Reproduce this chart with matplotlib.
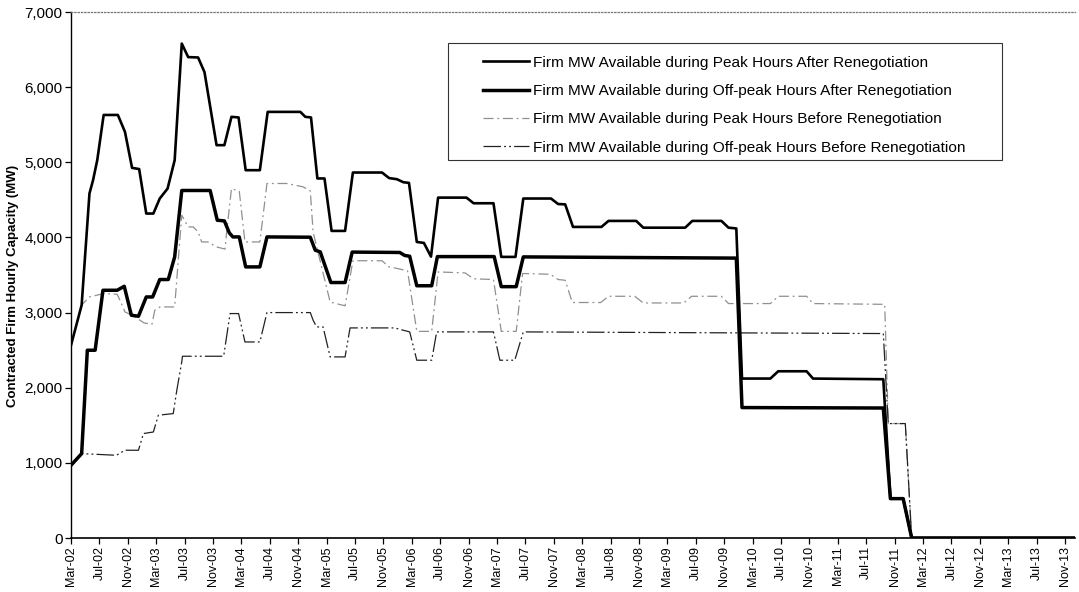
import matplotlib
matplotlib.use("Agg")
import matplotlib.pyplot as plt
from matplotlib.patches import Rectangle

plt.rcParams['font.family'] = ['Liberation Sans', 'DejaVu Sans']

# months counted from Mar-02, values in MW
peak_after_m = [0, 1.5, 2.6, 3.1, 3.7, 4.6, 6.6, 7.6, 8.6, 9.6, 10.6, 11.6, 12.5, 13.6, 14.6,
                15.6, 16.5, 17.9, 18.8, 20.5, 21.6, 22.6, 23.6, 24.6, 26.6, 27.7, 32.3, 33.0,
                33.8, 34.7, 35.7, 36.7, 38.6, 39.7, 43.8, 44.8, 45.9, 46.8, 47.6, 48.7, 49.7,
                50.7, 51.7, 55.7, 56.7, 59.5, 60.6, 62.6, 63.7, 67.6, 68.6, 69.6, 70.7, 74.7,
                75.7, 79.6, 80.6, 86.5, 87.5, 91.6, 92.6, 93.7, 94.5, 98.5, 99.6, 103.6, 104.5,
                114.4, 115.4, 117.2, 118.4, 141.4]
peak_after_mw = [2565, 3100, 4585, 4760, 5030, 5630, 5630, 5405, 4926, 4910, 4318, 4318, 4518,
                 4650, 5028, 6580, 6400, 6395, 6200, 5228, 5228, 5605, 5597, 4895, 4895, 5671,
                 5671, 5605, 5597, 4785, 4785, 4087, 4087, 4864, 4864, 4790, 4775, 4735, 4726,
                 3940, 3927, 3745, 4530, 4530, 4455, 4455, 3741, 3741, 4518, 4518, 4445, 4440,
                 4140, 4140, 4220, 4220, 4130, 4130, 4220, 4220, 4130, 4120, 2122, 2122, 2219,
                 2219, 2122, 2113, 524, 524, 0, 0]

offpeak_after_m = [0, 1.5, 2.3, 3.4, 4.5, 6.5, 7.5, 8.5, 9.5, 10.6, 11.5, 12.5, 13.7, 14.6, 15.6,
                   19.6, 20.6, 21.6, 22.3, 22.8, 23.7, 24.6, 26.6, 27.6, 33.7, 34.4, 35.1, 36.6,
                   38.6, 39.6, 46.3, 47.0, 47.7, 48.7, 50.8, 51.6, 59.6, 60.6, 62.7, 63.7, 93.7,
                   94.5, 114.4, 115.4, 117.2, 118.4, 141.4]
offpeak_after_mw = [968, 1123, 2499, 2499, 3297, 3297, 3350, 2965, 2951, 3208, 3208, 3440, 3440,
                    3741, 4625, 4625, 4229, 4220, 4060, 4007, 4007, 3608, 3608, 4007, 4003, 3830,
                    3808, 3400, 3400, 3805, 3800, 3760, 3750, 3357, 3357, 3745, 3745, 3345, 3345,
                    3741, 3725, 1736, 1730, 524, 524, 0, 0]

peak_before_m = [0, 1.5, 2.6, 4.6, 6.5, 6.9, 7.6, 8.8, 10.3, 11.4, 11.8, 12.5, 14.6, 15.6, 16.5,
                 17.2, 17.9, 18.4, 19.3, 20.5, 21.7, 21.9, 22.6, 23.7, 24.5, 26.6, 27.6, 30.4,
                 32.7, 33.7, 34.1, 36.5, 38.6, 39.7, 43.8, 44.8, 46.0, 47.4, 48.7, 50.8, 51.7,
                 55.5, 56.7, 59.5, 60.6, 62.7, 63.6, 67.5, 68.6, 69.6, 70.6, 74.6, 75.7, 79.4,
                 80.6, 86.3, 87.4, 91.6, 92.6, 98.5, 99.6, 103.6, 104.5, 114.6, 115.1, 117.5,
                 118.4, 141.4]
peak_before_mw = [2565, 3100, 3208, 3253, 3244, 3164, 3009, 2955, 2862, 2845, 3031, 3075, 3075,
                  4296, 4140, 4140, 4074, 3940, 3940, 3874, 3845, 4052, 4651, 4615, 3940, 3940,
                  4718, 4718, 4673, 4620, 4070, 3140, 3090, 3690, 3690, 3608, 3586, 3555, 2750,
                  2750, 3541, 3528, 3450, 3440, 2750, 2750, 3520, 3510, 3440, 3430, 3134, 3134,
                  3217, 3217, 3128, 3128, 3217, 3217, 3120, 3120, 3217, 3217, 3120, 3110, 1523,
                  1523, 0, 0]

offpeak_before_m = [0, 1.5, 6.4, 7.6, 9.5, 10.2, 11.6, 12.3, 14.4, 14.9, 15.6, 15.7, 21.5, 22.4,
                    23.6, 24.5, 26.6, 27.6, 33.7, 34.1, 34.6, 35.5, 36.5, 38.6, 39.3, 45.6, 46.8,
                    47.7, 48.7, 50.8, 51.5, 59.5, 60.4, 62.5, 63.7, 114.4, 115.1, 117.5, 118.4,
                    141.4]
offpeak_before_mw = [968, 1123, 1101, 1168, 1168, 1390, 1411, 1634, 1656, 1966, 2343, 2419, 2419,
                     2987, 2987, 2609, 2609, 3000, 3000, 2898, 2809, 2809, 2410, 2410, 2796, 2796,
                     2765, 2743, 2366, 2366, 2743, 2743, 2366, 2366, 2743, 2721, 1523, 1523, 0, 0]

tick_labels = ["Mar-02", "Jul-02", "Nov-02", "Mar-03", "Jul-03", "Nov-03", "Mar-04", "Jul-04",
               "Nov-04", "Mar-05", "Jul-05", "Nov-05", "Mar-06", "Jul-06", "Nov-06", "Mar-07",
               "Jul-07", "Nov-07", "Mar-08", "Jul-08", "Nov-08", "Mar-09", "Jul-09", "Nov-09",
               "Mar-10", "Jul-10", "Nov-10", "Mar-11", "Jul-11", "Nov-11", "Mar-12", "Jul-12",
               "Nov-12", "Mar-13", "Jul-13", "Nov-13"]

labels = ["Firm MW Available during Peak Hours After Renegotiation",
          "Firm MW Available during Off-peak Hours After Renegotiation",
          "Firm MW Available during Peak Hours Before Renegotiation",
          "Firm MW Available during Off-peak Hours Before Renegotiation"]

fig = plt.figure(figsize=(10.79, 5.92), dpi=100)
ax = fig.add_axes([0.0658, 0.0912, 0.9305, 0.8885])

l1, = ax.plot(peak_after_m, peak_after_mw, color="black", lw=1.9, zorder=4)
l2, = ax.plot(offpeak_after_m, offpeak_after_mw, color="black", lw=2.5, zorder=5)
l3, = ax.plot(peak_before_m, peak_before_mw, color="#909090", lw=0.9,
              dashes=(8, 3, 1.5, 3), zorder=3)
l4, = ax.plot(offpeak_before_m, offpeak_before_mw, color="#222222", lw=0.9,
              dashes=(14, 2.5, 1.5, 2.5, 1.5, 2.5), zorder=3)

ax.set_xlim(0, 141.4)
ax.set_ylim(0, 7000)
ax.set_yticks(range(0, 7001, 1000))
ax.set_yticklabels([f"{v:,}" for v in range(0, 7001, 1000)], fontsize=11)
ax.set_xticks(range(0, 4 * len(tick_labels), 4))
ax.set_xticklabels(tick_labels, rotation=90, fontsize=9,
                   family=["Liberation Sans Narrow", "Liberation Sans"])
ax.tick_params(axis="both", direction="out", length=4, width=0.9, pad=2)

ax.spines["right"].set_visible(False)
ax.spines["top"].set_linestyle(":")
ax.spines["top"].set_color("#777777")
ax.spines["top"].set_linewidth(0.9)
ax.spines["left"].set_linewidth(1.0)
ax.spines["bottom"].set_linewidth(1.2)

ax.set_ylabel("Contracted Firm Hourly Capacity (MW)", fontsize=9.5, fontweight="bold")
ax.yaxis.set_label_coords(-0.052, 0.48)

leg = ax.legend([l1, l2, l3, l4], labels, loc="upper left", bbox_to_anchor=(0.4104, 0.917),
                frameon=False, fontsize=11.1, handlelength=2.95, handletextpad=0.28,
                labelspacing=0.93, borderpad=0, borderaxespad=0)
ax.add_patch(Rectangle((0.3755, 0.7186), 0.5515, 0.2224, transform=ax.transAxes,
                       fill=False, edgecolor="#333333", lw=0.8, zorder=6))

fig.savefig("out.png", dpi=100)
